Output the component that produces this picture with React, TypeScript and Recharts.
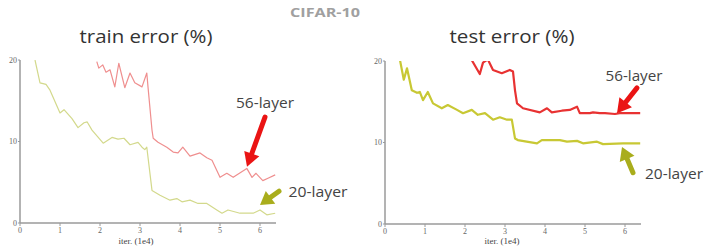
import React from 'react';
import { LineChart, Line, XAxis, YAxis, ReferenceLine } from 'recharts';

// ---- data (iterations in 1e4, error in %) ----
const train20Iter = [0.375, 0.5, 0.65, 0.75, 1.0, 1.1, 1.3, 1.45, 1.6, 1.68, 1.8, 2.08, 2.3, 2.45, 2.6, 2.75, 2.95, 3.05, 3.12, 3.17, 3.3, 3.5, 3.75, 3.92, 4.05, 4.25, 4.45, 4.67, 4.92, 5.05, 5.2, 5.5, 5.83, 6.0, 6.17, 6.38];
const train20Err = [20, 17.2, 17.0, 16.3, 13.5, 13.9, 12.8, 11.7, 12.3, 12.4, 11.4, 9.8, 10.5, 10.3, 10.4, 9.6, 9.9, 9.3, 9.0, 9.3, 4.0, 3.4, 2.8, 3.0, 2.6, 2.8, 2.4, 2.4, 1.6, 1.2, 1.6, 1.2, 1.2, 1.6, 1.0, 1.2];

const train56Iter = [1.92, 1.97, 2.07, 2.15, 2.25, 2.37, 2.47, 2.62, 2.75, 2.87, 3.05, 3.17, 3.2, 3.3, 3.33, 3.45, 3.67, 3.83, 3.95, 4.07, 4.25, 4.5, 4.67, 4.8, 5.0, 5.17, 5.33, 5.67, 5.8, 5.9, 6.07, 6.2, 6.38];
const train56Err = [19.8, 19.0, 19.4, 18.5, 18.8, 16.7, 19.6, 16.6, 18.4, 17.2, 16.7, 18.4, 16.7, 11.4, 10.4, 9.9, 9.3, 8.7, 8.6, 9.3, 8.2, 8.6, 8.0, 7.7, 5.6, 6.1, 5.6, 6.7, 5.6, 6.1, 5.2, 5.5, 5.9];

const test20Iter = [0.375, 0.47, 0.55, 0.67, 0.8, 0.87, 0.95, 1.07, 1.2, 1.42, 1.57, 1.8, 1.95, 2.17, 2.32, 2.5, 2.7, 2.87, 3.05, 3.17, 3.25, 3.32, 3.8, 3.92, 4.37, 4.55, 4.8, 4.95, 5.3, 5.45, 5.95, 6.38];
const test20Err = [20.1, 17.7, 19.1, 16.4, 16.1, 16.2, 15.2, 16.2, 14.8, 14.2, 14.6, 14.0, 13.6, 14.0, 13.4, 13.6, 12.8, 13.1, 12.8, 12.8, 10.5, 10.3, 9.9, 10.3, 10.3, 10.1, 10.2, 9.9, 10.1, 9.8, 9.9, 9.9];

const test56Iter = [2.17, 2.37, 2.45, 2.57, 2.7, 2.92, 3.12, 3.2, 3.25, 3.3, 3.45, 3.87, 4.05, 4.17, 4.42, 4.62, 4.8, 4.87, 5.12, 5.2, 5.37, 5.5, 5.75, 5.87, 6.38];
const test56Err = [20.1, 18.4, 19.8, 20.2, 18.9, 18.5, 18.9, 18.7, 16.4, 14.8, 14.2, 13.7, 14.2, 13.7, 13.9, 14.0, 14.4, 13.6, 13.6, 13.7, 13.6, 13.6, 13.5, 13.6, 13.6];

const xTicks = [0, 1, 2, 3, 4, 5, 6];
const yTicks = [0, 10, 20];
const xDomain = [0, 6.4];
const yDomain = [0, 20];

// annotation arrows: [tail, tip] in data coordinates
const trainArrow56 = [{ x: 6.125, y: 13.0 }, { x: 5.675, y: 6.9 }];
const trainArrow20 = [{ x: 6.475, y: 3.9 }, { x: 6.0, y: 2.2 }];
const testArrow56 = [{ x: 6.3, y: 16.7 }, { x: 5.8, y: 13.6 }];
const testArrow20 = [{ x: 6.2, y: 6.3 }, { x: 5.925, y: 9.45 }];

const toPoints = (xs: number[], ys: number[]) => xs.map((x, i) => ({ x, y: ys[i] }));

const makeArrow = (color: string, w: number, headLen: number, headHalf: number) => (props: any) => {
  const { x1, y1, x2, y2 } = props;
  if ([x1, y1, x2, y2].some((v) => typeof v !== 'number' || isNaN(v))) return <g />;
  const dx = x2 - x1;
  const dy = y2 - y1;
  const len = Math.sqrt(dx * dx + dy * dy) || 1;
  const ux = dx / len;
  const uy = dy / len;
  const bx = x2 - ux * headLen;
  const by = y2 - uy * headLen;
  const px = -uy;
  const py = ux;
  return (
    <g>
      <line x1={x1} y1={y1} x2={bx + ux * 2} y2={by + uy * 2} stroke={color} strokeWidth={w} strokeLinecap="round" />
      <polygon
        points={`${x2},${y2} ${bx + px * headHalf},${by + py * headHalf} ${bx - px * headHalf},${by - py * headHalf}`}
        fill={color}
      />
    </g>
  );
};

const tickStyle = { fontFamily: '"Liberation Serif", serif', fontSize: 8, fill: '#666' };
const axisLineStyle = { stroke: '#9a9a9a', strokeWidth: 1.5 };

function Panel(props: {
  left: number;
  top: number;
  right: number;
  yWidth: number;
  xHeight: number;
  s20: { x: number; y: number }[];
  s56: { x: number; y: number }[];
  c20: string;
  c56: string;
  w: number;
  a56: { x: number; y: number }[];
  a20: { x: number; y: number }[];
}) {
  return (
    <LineChart
      width={300}
      height={249}
      margin={{ top: props.top, right: props.right, bottom: 0, left: 0 }}
      style={{ position: 'absolute', left: props.left, top: 0 }}
    >
      <XAxis
        type="number"
        dataKey="x"
        domain={xDomain}
        ticks={xTicks}
        allowDataOverflow
        height={props.xHeight}
        tick={tickStyle}
        tickSize={3}
        tickMargin={1}
        axisLine={axisLineStyle}
        tickLine={{ stroke: '#9a9a9a' }}
      />
      <YAxis
        type="number"
        dataKey="y"
        domain={yDomain}
        ticks={yTicks}
        allowDataOverflow
        width={props.yWidth}
        tick={tickStyle}
        tickSize={2}
        tickMargin={1}
        axisLine={axisLineStyle}
        tickLine={{ stroke: '#9a9a9a' }}
      />
      <Line data={props.s20} dataKey="y" type="linear" stroke={props.c20} strokeWidth={props.w} dot={false} isAnimationActive={false} strokeLinejoin="round" />
      <Line data={props.s56} dataKey="y" type="linear" stroke={props.c56} strokeWidth={props.w} dot={false} isAnimationActive={false} strokeLinejoin="round" />
      <ReferenceLine segment={props.a56} ifOverflow="visible" shape={makeArrow('#ea1414', 5, 14, 8)} />
      <ReferenceLine segment={props.a20} ifOverflow="visible" shape={makeArrow('#a9ad1c', 5, 13, 8)} />
    </LineChart>
  );
}

export default function App() {
  const sans = '"Open Sans", "Noto Sans", sans-serif';
  const serif = '"Liberation Serif", serif';
  return (
    <div style={{ position: 'absolute', left: 0, top: 0, width: 710, height: 249, background: '#ffffff', overflow: 'hidden' }}>
      <Panel
        left={0}
        top={60}
        right={24}
        yWidth={20}
        xHeight={26}
        s20={toPoints(train20Iter, train20Err)}
        s56={toPoints(train56Iter, train56Err)}
        c20="#d3d98c"
        c56="#ef8f8f"
        w={1.2}
        a56={trainArrow56}
        a20={trainArrow20}
      />
      <Panel
        left={360}
        top={61}
        right={19}
        yWidth={25}
        xHeight={25}
        s20={toPoints(test20Iter, test20Err)}
        s56={toPoints(test56Iter, test56Err)}
        c20="#c8c834"
        c56="#e83232"
        w={2.2}
        a56={testArrow56}
        a20={testArrow20}
      />
      <svg width={710} height={249} style={{ position: 'absolute', left: 0, top: 0, pointerEvents: 'none' }}>
        <text x={325} y={12} textAnchor="middle" dominantBaseline="central" fontFamily={sans} fontWeight="bold" fontSize={13} fill="#a0a0a0" textLength={70} lengthAdjust="spacingAndGlyphs">CIFAR-10</text>
        <text x={146} y={36} textAnchor="middle" dominantBaseline="central" fontFamily={sans} fontSize={19} fill="#333" textLength={133} lengthAdjust="spacingAndGlyphs">train error (%)</text>
        <text x={512} y={36} textAnchor="middle" dominantBaseline="central" fontFamily={sans} fontSize={19} fill="#333" textLength={125} lengthAdjust="spacingAndGlyphs">test error (%)</text>
        <text x={265} y={102} textAnchor="middle" dominantBaseline="central" fontFamily={sans} fontSize={15} fill="#444" textLength={58} lengthAdjust="spacingAndGlyphs">56-layer</text>
        <text x={318} y={191} textAnchor="middle" dominantBaseline="central" fontFamily={sans} fontSize={15} fill="#444" textLength={59} lengthAdjust="spacingAndGlyphs">20-layer</text>
        <text x={634} y={75} textAnchor="middle" dominantBaseline="central" fontFamily={sans} fontSize={15} fill="#444" textLength={57} lengthAdjust="spacingAndGlyphs">56-layer</text>
        <text x={674} y={173} textAnchor="middle" dominantBaseline="central" fontFamily={sans} fontSize={15} fill="#444" textLength={58} lengthAdjust="spacingAndGlyphs">20-layer</text>
        <text x={136} y={241} textAnchor="middle" dominantBaseline="central" fontFamily={serif} fontSize={9} fill="#444">iter. (1e4)</text>
        <text x={502} y={241} textAnchor="middle" dominantBaseline="central" fontFamily={serif} fontSize={9} fill="#444">iter. (1e4)</text>
      </svg>
    </div>
  );
}
